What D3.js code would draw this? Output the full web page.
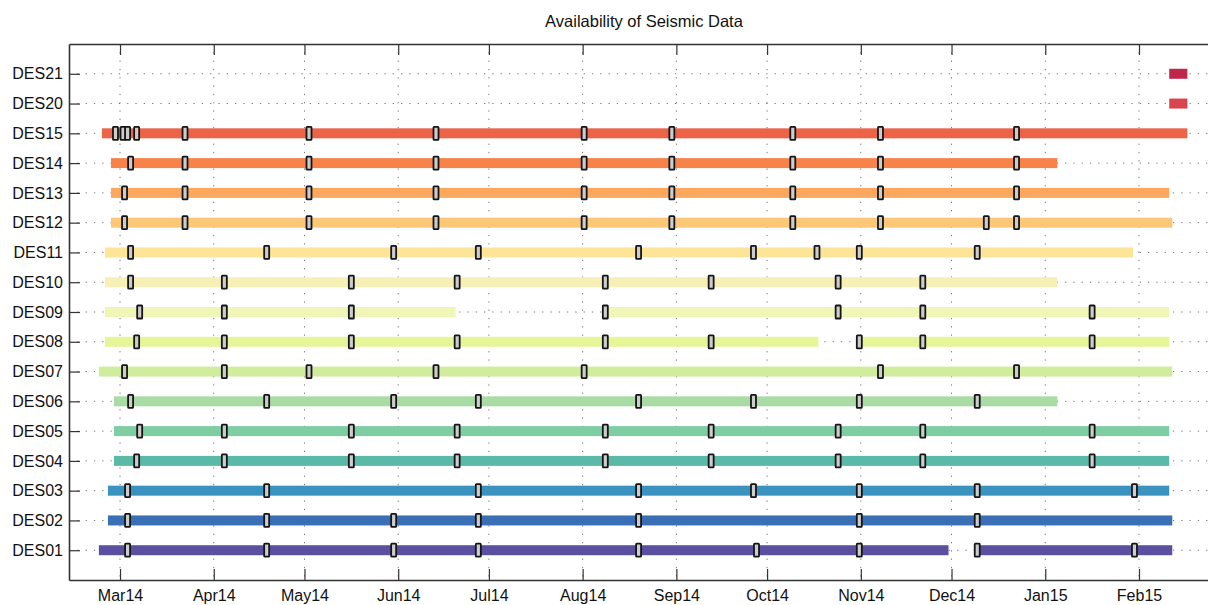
<!DOCTYPE html>
<html>
<head>
<meta charset="utf-8">
<script src="https://cdn.jsdelivr.net/npm/d3@7"></script>
<style>
  html, body { margin: 0; padding: 0; background: #ffffff; }
  svg { display: block; }
  text { font-family: "Liberation Sans", Arial, sans-serif; fill: #111; }
</style>
</head>
<body>
<svg id="chart" width="1208" height="605"></svg>
<script>
// ---------------- DATA ----------------
const title = "Availability of Seismic Data";
const stations = ["DES21","DES20","DES15","DES14","DES13","DES12","DES11","DES10","DES09",
                  "DES08","DES07","DES06","DES05","DES04","DES03","DES02","DES01"];
// first and last day of data per station
const barStart = ["2015-02-11","2015-02-11","2014-02-23","2014-02-26","2014-02-26","2014-02-26","2014-02-24","2014-02-24","2014-02-24",
                  "2014-02-24","2014-02-22","2014-02-27","2014-02-27","2014-02-27","2014-02-25","2014-02-25","2014-02-22"];
const barEnd   = ["2015-02-17","2015-02-17","2015-02-17","2015-01-05","2015-02-11","2015-02-12","2015-01-30","2015-01-05","2015-02-11",
                  "2015-02-11","2015-02-12","2015-01-05","2015-02-11","2015-02-11","2015-02-11","2015-02-12","2015-02-12"];
// data gaps
const gapStation = ["DES09","DES08","DES01"];
const gapFrom    = ["2014-06-20","2014-10-18","2014-11-30"];
const gapTo      = ["2014-08-08","2014-10-31T12","2014-12-09T12"];
// service visits (markers)
const visitsDES21 = [];
const visitsDES20 = [];
const visitsDES15 = ["2014-02-27T12","2014-03-02","2014-03-03T12","2014-03-06T12","2014-03-22T12","2014-05-02T12","2014-06-13T12","2014-08-01T12","2014-08-30T12","2014-10-09T12","2014-11-07T12","2014-12-22T12"];
const visitsDES14 = ["2014-03-04T12","2014-03-22T12","2014-05-02T12","2014-06-13T12","2014-08-01T12","2014-08-30T12","2014-10-09T12","2014-11-07T12","2014-12-22T12"];
const visitsDES13 = ["2014-03-02T12","2014-03-22T12","2014-05-02T12","2014-06-13T12","2014-08-01T12","2014-08-30T12","2014-10-09T12","2014-11-07T12","2014-12-22T12"];
const visitsDES12 = ["2014-03-02T12","2014-03-22T12","2014-05-02T12","2014-06-13T12","2014-08-01T12","2014-08-30T12","2014-10-09T12","2014-11-07T12","2014-12-12T12","2014-12-22T12"];
const visitsDES11 = ["2014-03-04T12","2014-04-18T12","2014-05-30T12","2014-06-27T12","2014-08-19T12","2014-09-26T12","2014-10-17T12","2014-10-31T12","2014-12-09T12"];
const visitsDES10 = ["2014-03-04T12","2014-04-04T12","2014-05-16T12","2014-06-20T12","2014-08-08T12","2014-09-12T12","2014-10-24T12","2014-11-21T12"];
const visitsDES09 = ["2014-03-07T12","2014-04-04T12","2014-05-16T12","2014-08-08T12","2014-10-24T12","2014-11-21T12","2015-01-16T12"];
const visitsDES08 = ["2014-03-06T12","2014-04-04T12","2014-05-16T12","2014-06-20T12","2014-08-08T12","2014-09-12T12","2014-10-31T12","2014-11-21T12","2015-01-16T12"];
const visitsDES07 = ["2014-03-02T12","2014-04-04T12","2014-05-02T12","2014-06-13T12","2014-08-01T12","2014-11-07T12","2014-12-22T12"];
const visitsDES06 = ["2014-03-04T12","2014-04-18T12","2014-05-30T12","2014-06-27T12","2014-08-19T12","2014-09-26T12","2014-10-31T12","2014-12-09T12"];
const visitsDES05 = ["2014-03-07T12","2014-04-04T12","2014-05-16T12","2014-06-20T12","2014-08-08T12","2014-09-12T12","2014-10-24T12","2014-11-21T12","2015-01-16T12"];
const visitsDES04 = ["2014-03-06T12","2014-04-04T12","2014-05-16T12","2014-06-20T12","2014-08-08T12","2014-09-12T12","2014-10-24T12","2014-11-21T12","2015-01-16T12"];
const visitsDES03 = ["2014-03-03T12","2014-04-18T12","2014-06-27T12","2014-08-19T12","2014-09-26T12","2014-10-31T12","2014-12-09T12","2015-01-30T12"];
const visitsDES02 = ["2014-03-03T12","2014-04-18T12","2014-05-30T12","2014-06-27T12","2014-08-19T12","2014-10-31T12","2014-12-09T12"];
const visitsDES01 = ["2014-03-03T12","2014-04-18T12","2014-05-30T12","2014-06-27T12","2014-08-19T12","2014-09-27T12","2014-10-31T12","2014-12-09T12","2015-01-30T12"];
const axisStart = "2014-02-12T03";
const axisEnd   = "2015-02-27T11";

// ---------------- STYLE ----------------
const stationColors = ["#c0254a","#d9454e","#ec6347","#f7834a","#fba85e","#fcc877","#fde496","#f7f0b6","#eff6b6",
                       "#e6f597","#d0ec9d","#a8dca4","#7fcda3","#5bb9a8","#3a93bf","#3b6fb5","#5b4fa0"];

// ---------------- CHART ----------------
const parse = s => new Date(s.length > 10 ? s + ":00:00Z" : s + "T00:00:00Z");
const visits = {DES21:visitsDES21, DES20:visitsDES20, DES15:visitsDES15, DES14:visitsDES14, DES13:visitsDES13,
  DES12:visitsDES12, DES11:visitsDES11, DES10:visitsDES10, DES09:visitsDES09, DES08:visitsDES08, DES07:visitsDES07,
  DES06:visitsDES06, DES05:visitsDES05, DES04:visitsDES04, DES03:visitsDES03, DES02:visitsDES02, DES01:visitsDES01};

const pLeft = 69, pRight = 1219, pTop = 44, pBottom = 580;
const svg = d3.select("#chart");

const x = d3.scaleUtc().domain([parse(axisStart), parse(axisEnd)]).range([pLeft, pRight]);
const y = d3.scalePoint().domain(stations).range([pTop, pBottom]).padding(1);
const color = d3.scaleOrdinal().domain(stations).range(stationColors);

// segments
const segs = [];
stations.forEach((s, i) => {
  let pieces = [[parse(barStart[i]), parse(barEnd[i])]];
  gapStation.forEach((g, j) => {
    if (g !== s) return;
    const a = parse(gapFrom[j]), b = parse(gapTo[j]);
    pieces = pieces.flatMap(([p, q]) => (a > p && b < q) ? [[p, a], [b, q]] : [[p, q]]);
  });
  pieces.forEach(([p, q]) => segs.push({station: s, from: p, to: q}));
});
const marks = stations.flatMap(s => visits[s].map(d => ({station: s, date: parse(d)})));

const months = x.ticks(d3.utcMonth.every(1));

// grid
const grid = svg.append("g").attr("stroke", "#777").attr("stroke-width", 1).attr("stroke-dasharray", "1.3,7");
grid.selectAll("line.h").data(stations).join("line").attr("class", "h")
  .attr("x1", pLeft).attr("x2", pRight).attr("y1", d => y(d)).attr("y2", d => y(d));
grid.selectAll("line.v").data(months).join("line").attr("class", "v")
  .attr("x1", d => x(d)).attr("x2", d => x(d)).attr("y1", pTop).attr("y2", pBottom);

// bars
svg.append("g").selectAll("rect").data(segs).join("rect")
  .attr("x", d => x(d.from)).attr("width", d => x(d.to) - x(d.from))
  .attr("y", d => y(d.station) - 5).attr("height", 10)
  .attr("fill", d => color(d.station));

// markers
svg.append("g").selectAll("rect").data(marks).join("rect")
  .attr("x", d => x(d.date) - 2.5).attr("width", 5)
  .attr("y", d => y(d.station) - 6.5).attr("height", 13)
  .attr("rx", 0.6)
  .attr("fill", "#cdcdcd").attr("stroke", "#151515").attr("stroke-width", 1.8);

// axes
const fmt = d3.utcFormat("%b%y");
const xAxis = svg.append("g").attr("transform", `translate(0,${pBottom})`)
  .call(d3.axisBottom(x).tickValues(months).tickFormat(fmt).tickSize(-11).tickSizeOuter(0).tickPadding(10));
const xTop = svg.append("g").attr("transform", `translate(0,${pTop})`)
  .call(d3.axisTop(x).tickValues(months).tickFormat("").tickSize(-11).tickSizeOuter(0));
const yAxis = svg.append("g").attr("transform", `translate(${pLeft},0)`)
  .call(d3.axisLeft(y).tickSize(-11).tickSizeOuter(0).tickPadding(6));

[xAxis, xTop, yAxis].forEach(g => {
  g.select(".domain").attr("stroke", "#333").attr("stroke-width", 1.6);
  g.selectAll(".tick line").attr("stroke", "#333").attr("stroke-width", 1.2);
  g.selectAll(".tick text").attr("font-size", 16).attr("fill", "#111")
    .attr("font-family", '"Liberation Sans", Arial, sans-serif');
});

svg.append("text").attr("x", (pLeft + pRight) / 2).attr("y", 27)
  .attr("text-anchor", "middle").attr("font-size", 16.5).text(title);
</script>
</body>
</html>
